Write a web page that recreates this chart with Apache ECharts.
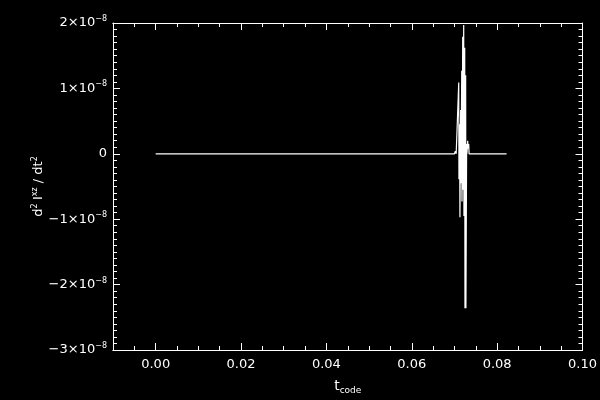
<!DOCTYPE html>
<html>
<head>
<meta charset="utf-8">
<script src="https://cdn.jsdelivr.net/npm/echarts@6/dist/echarts.min.js"></script>
<style>
  html, body { margin: 0; padding: 0; background: #000; }
  #chart { width: 600px; height: 400px; }
</style>
</head>
<body>
<div id="chart"></div>
<script>
// time (t_code) and d2 I^xz / dt2 in units of 1e-8
const tValues = [
  0.0, 0.0700, 0.0702, 0.0703, 0.0704, 0.0708,
  0.07100, 0.07105, 0.07120, 0.07128, 0.07145, 0.07152,
  0.07170, 0.07176, 0.07193, 0.07200, 0.07216, 0.07222,
  0.07240, 0.07246, 0.07262, 0.07268, 0.07285, 0.07292,
  0.07310, 0.07318, 0.07334, 0.07342, 0.0822
]
const dValues = [
  0.0, 0.0, 0.04, 0.07, 0.0, 0.0,
  1.09, -0.39, 0.45, -0.97, 0.67, -0.45,
  1.27, -0.73, 1.79, -0.55, 1.97, -0.95,
  1.62, -2.36, 1.20, -2.36, 0.15, 0.0,
  0.20, 0.08, 0.15, 0.0, 0.0
]
const yScale = 1e-8

const xMajorTicks = [0.0, 0.02, 0.04, 0.06, 0.08, 0.10]
const xMinorTicks = [-0.005, 0.005, 0.01, 0.015, 0.025, 0.03, 0.035, 0.045, 0.05,
  0.055, 0.065, 0.07, 0.075, 0.085, 0.09, 0.095]
const yMajorTicks = [-3e-8, -2e-8, -1e-8, 0, 1e-8, 2e-8]

const chart = echarts.init(document.getElementById('chart'))

const white = '#ffffff'
const font = 'DejaVu Sans'

const yLabel = (v) => {
  const m = Math.round(v / yScale)
  if (m === 0) return '{n|0}'
  return '{n|' + (m < 0 ? '\u2212' : '') + Math.abs(m) + '\u00d710}{s|\u22128}'
}

const supRich = {
  n: { color: white, fontSize: 13, fontFamily: font },
  s: { color: white, fontSize: 8, fontFamily: font, padding: [0, 0, 8, 0] },
}

const baseX = {
  type: 'value',
  min: -0.01,
  max: 0.10,
  splitLine: { show: false },
  axisLine: { onZero: false, lineStyle: { color: white, width: 1 } },
}
const baseY = {
  type: 'value',
  min: -3e-8,
  max: 2e-8,
  interval: 1e-8,
  splitLine: { show: false },
  axisLine: { onZero: false, lineStyle: { color: white, width: 1 } },
}

const option = {
  backgroundColor: '#000',
  animation: false,
  grid: { left: 113, right: 15, top: 23, bottom: 50 },
  xAxis: [
    {
      ...baseX,
      position: 'bottom',
      axisTick: {
        inside: true, length: 7, customValues: xMajorTicks,
        lineStyle: { color: white },
      },
      axisLabel: {
        customValues: xMajorTicks,
        color: white, fontSize: 13, fontFamily: font, margin: 8,
        formatter: (v) => v.toFixed(2),
      },
      name: '{t|t}{sub|code}',
      nameLocation: 'middle',
      nameGap: 28,
      nameTextStyle: {
        rich: {
          t: { color: white, fontSize: 14, fontFamily: font },
          sub: { color: white, fontSize: 9, fontFamily: font, padding: [8, 0, 0, 0] },
        },
      },
    },
    {
      ...baseX,
      position: 'bottom',
      axisTick: {
        inside: true, length: 4, customValues: xMinorTicks,
        lineStyle: { color: white },
      },
      axisLabel: { show: false },
    },
    {
      ...baseX,
      position: 'top',
      axisTick: {
        inside: true, length: 7, customValues: xMajorTicks,
        lineStyle: { color: white },
      },
      axisLabel: { show: false },
    },
    {
      ...baseX,
      position: 'top',
      axisTick: {
        inside: true, length: 4, customValues: xMinorTicks,
        lineStyle: { color: white },
      },
      axisLabel: { show: false },
    },
  ],
  yAxis: [
    {
      ...baseY,
      position: 'left',
      axisTick: { inside: true, length: 7, lineStyle: { color: white } },
      minorTick: { show: true, splitNumber: 10, length: 4, lineStyle: { color: white } },
      axisLabel: {
        customValues: yMajorTicks,
        margin: 6,
        formatter: yLabel,
        rich: supRich,
      },
      name: '{n|d}{s|2} {n|I}{s|xz}{n| / dt}{s|2}',
      nameLocation: 'middle',
      nameGap: 66,
      nameRotate: 90,
      nameMoveOverlap: false,
      nameTextStyle: { rich: supRich },
    },
    {
      ...baseY,
      position: 'right',
      axisTick: { inside: true, length: 7, lineStyle: { color: white } },
      minorTick: { show: true, splitNumber: 10, length: 4, lineStyle: { color: white } },
      axisLabel: { show: false },
    },
  ],
  series: [
    {
      type: 'line',
      xAxisIndex: 0,
      yAxisIndex: 0,
      symbol: 'none',
      lineStyle: { color: white, width: 1.2 },
      data: tValues.map((t, i) => [t, dValues[i] * yScale]),
    },
  ],
}
chart.setOption(option)
</script>
</body>
</html>
